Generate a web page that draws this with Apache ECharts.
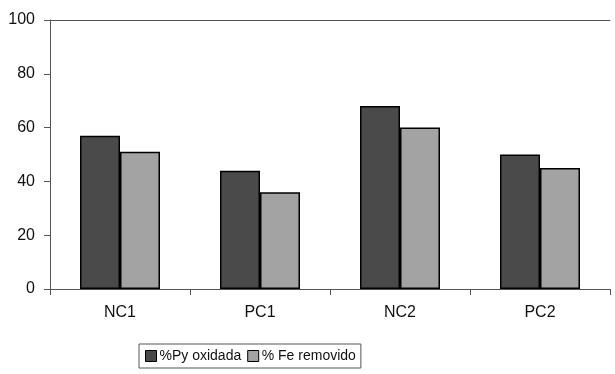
<!DOCTYPE html>
<html>
<head>
<meta charset="utf-8">
<script src="https://cdn.jsdelivr.net/npm/echarts@6/dist/echarts.min.js"></script>
<style>
html,body{margin:0;padding:0;background:#fff;}
#chart{width:615px;height:374px;}
</style>
</head>
<body>
<div id="chart"></div>
<script>
var categories = ['NC1', 'PC1', 'NC2', 'PC2'];
var pyOxidada = [57, 44, 68, 50];
var feRemovido = [51, 36, 60, 45];
var yTicks = [0, 20, 40, 60, 80, 100];

var axisColor = '#555';
var fontFam = '"Liberation Sans", Arial, sans-serif';

var chart = echarts.init(document.getElementById('chart'));
chart.setOption({
    animation: false,
    backgroundColor: '#fff',
    grid: { left: 50, right: 5, top: 20, bottom: 85, containLabel: false },
    legend: {
        data: ['%Py oxidada', '% Fe removido'],
        left: 139,
        top: 344,
        padding: [5, 5, 5, 6],
        itemGap: 6,
        itemWidth: 11,
        itemHeight: 11,
        itemStyle: { borderColor: '#000', borderWidth: 1 },
        borderColor: '#555',
        borderWidth: 1,
        icon: 'rect',
        textStyle: { fontFamily: fontFam, fontSize: 14, color: '#111', padding: [0, 0, 0, -2] }
    },
    xAxis: [{
        type: 'category',
        data: categories,
        axisLine: { lineStyle: { color: axisColor, width: 1 } },
        axisTick: { show: true, alignWithLabel: false, length: 6, lineStyle: { color: axisColor } },
        axisLabel: { fontFamily: fontFam, fontSize: 16, color: '#111', margin: 16 },
        splitLine: { show: false }
    }, {
        type: 'category',
        data: categories,
        position: 'top',
        axisLine: { lineStyle: { color: axisColor, width: 1 } },
        axisTick: { show: false },
        axisLabel: { show: false }
    }],
    yAxis: {
        type: 'value',
        min: yTicks[0],
        max: yTicks[yTicks.length - 1],
        interval: 20,
        axisLine: { show: true, lineStyle: { color: axisColor, width: 1 } },
        axisTick: { show: true, length: 6, lineStyle: { color: axisColor } },
        axisLabel: { fontFamily: fontFam, fontSize: 16, color: '#111', margin: 15 },
        splitLine: { show: false }
    },
    series: [{
        name: '%Py oxidada',
        type: 'bar',
        data: pyOxidada,
        barWidth: 40,
        barGap: '0%',
        itemStyle: { color: '#4a4a4a', borderColor: '#000', borderWidth: 1.5 }
    }, {
        name: '% Fe removido',
        type: 'bar',
        data: feRemovido,
        barWidth: 40,
        barGap: '0%',
        itemStyle: { color: '#a3a3a3', borderColor: '#000', borderWidth: 1.5 }
    }]
});
</script>
</body>
</html>
